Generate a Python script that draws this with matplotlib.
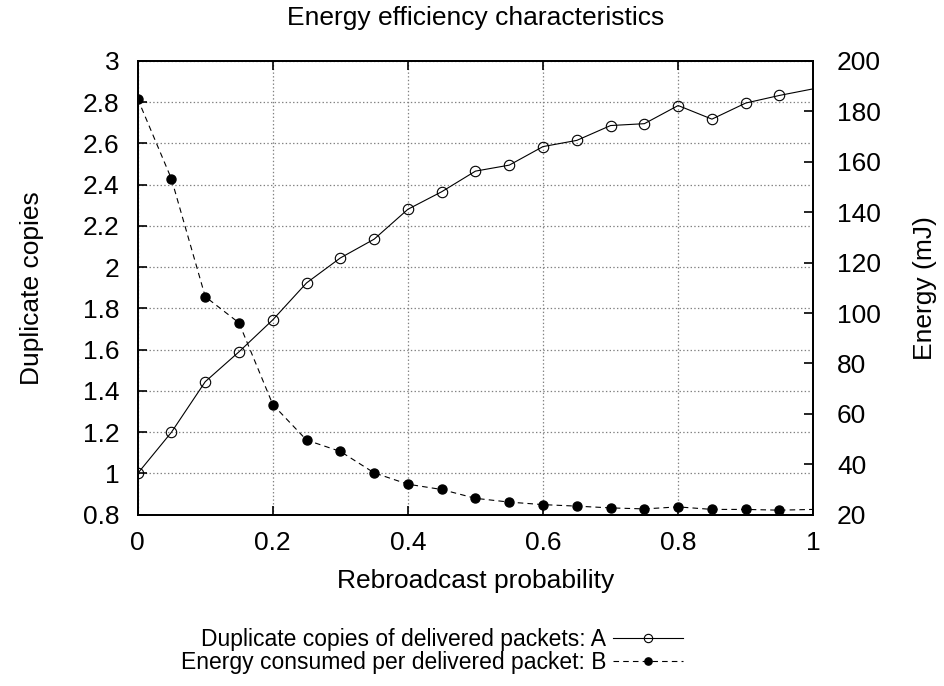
import matplotlib
matplotlib.use("Agg")
import matplotlib.pyplot as plt
from matplotlib.ticker import FormatStrFormatter, MultipleLocator

plt.rcParams['font.family'] = ['Liberation Sans', 'DejaVu Sans']
plt.rcParams['lines.scale_dashes'] = False

# Rebroadcast probability (x) and the two measured series
prob = [0.0, 0.05, 0.1, 0.15, 0.2, 0.25, 0.3, 0.35, 0.4, 0.45, 0.5,
        0.55, 0.6, 0.65, 0.7, 0.75, 0.8, 0.85, 0.9, 0.95, 1.0]
dup_copies = [1.0, 1.2, 1.445, 1.59, 1.745, 1.924, 2.045, 2.136, 2.281, 2.366, 2.466,
              2.495, 2.585, 2.615, 2.687, 2.696, 2.784, 2.718, 2.796, 2.833, 2.865]
energy = [185.0, 153.2, 106.5, 96.1, 63.7, 49.6, 45.1, 36.6, 32.1, 30.0, 26.5,
          25.0, 24.0, 23.4, 22.7, 22.3, 23.1, 22.1, 22.1, 21.8, 22.1]

label_a = 'Duplicate copies of delivered packets: A'
label_b = 'Energy consumed per delivered packet: B'

FS = 19        # ticks, axis labels, title
FS_LEG = 16.5  # key

fig = plt.figure(figsize=(9.45, 6.86), dpi=100)
ax1 = fig.add_axes([0.1457, 0.2497, 0.7149, 0.6614])
ax2 = ax1.twinx()

# no marker on the last point (it sits on the border in the original)
n = len(prob) - 1
l1, = ax1.plot(prob, dup_copies, color='black', lw=0.8, marker='o', ms=7.5,
               mfc='none', mec='black', mew=0.8, markevery=list(range(n)),
               label=label_a)
l2, = ax2.plot(prob, energy, color='black', lw=0.8, ls='--', dashes=(4, 3),
               marker='o', ms=6.5, mfc='black', mec='black',
               markevery=list(range(n)), label=label_b)

ax1.set_xlim(0, 1)
ax1.set_ylim(0.8, 3.0)
ax2.set_ylim(20, 200)

ax1.xaxis.set_major_locator(MultipleLocator(0.2))
ax1.yaxis.set_major_locator(MultipleLocator(0.2))
ax2.yaxis.set_major_locator(MultipleLocator(20))
ax1.xaxis.set_major_formatter(FormatStrFormatter('%g'))
ax1.yaxis.set_major_formatter(FormatStrFormatter('%g'))
ax2.yaxis.set_major_formatter(FormatStrFormatter('%g'))

ax1.tick_params(axis='x', direction='in', top=True, length=6.5, width=1.2,
                labelsize=FS, pad=12)
ax1.tick_params(axis='y', direction='in', right=False, length=6.5, width=1.2,
                labelsize=FS, pad=13)
ax2.tick_params(axis='y', direction='in', length=6.5, width=1.2,
                labelsize=FS, pad=17)

ax1.grid(True, color='#808080', ls=':', lw=0.9)

for ax in (ax1, ax2):
    for sp in ax.spines.values():
        sp.set_linewidth(1.3)

ax1.set_xlabel('Rebroadcast probability', fontsize=FS, labelpad=10)
ax1.set_ylabel('Duplicate copies', fontsize=FS)
ax2.set_ylabel('Energy (mJ)', fontsize=FS)
ax1.yaxis.set_label_coords(-0.139, 0.5)
ax2.yaxis.set_label_coords(1.1476, 0.5)
ax1.set_title('Energy efficiency characteristics', fontsize=FS, pad=26)

fig.legend(handles=[l1, l2], labels=[label_a, label_b],
           loc='upper right', bbox_to_anchor=(0.7228, 0.085),
           frameon=False, fontsize=FS_LEG, markerfirst=False, markerscale=0.8,
           handlelength=3.05, handletextpad=0.3, labelspacing=0.0,
           borderpad=0, borderaxespad=0)

fig.savefig('out.png', dpi=100)
